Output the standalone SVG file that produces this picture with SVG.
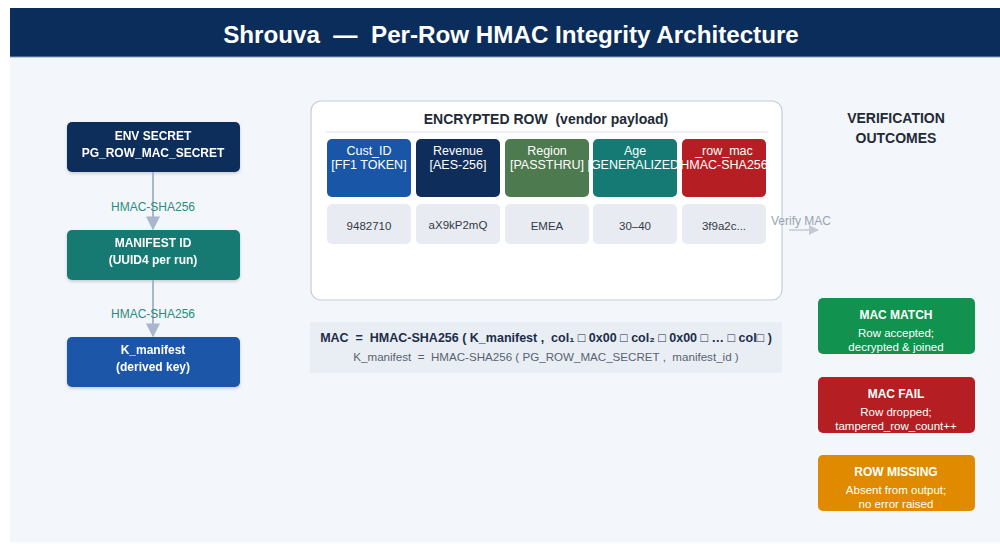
<svg xmlns="http://www.w3.org/2000/svg" width="1000" height="544" viewBox="0 0 1000 544">
  <defs>
    <marker id="arrow" viewBox="0 0 10 10" refX="9" refY="5" markerWidth="7" markerHeight="7" orient="auto">
      <path d="M0,0 L10,5 L0,10 z" fill="#a9b6cc"/>
    </marker>
    <marker id="arrow-grey" viewBox="0 0 10 10" refX="9" refY="5" markerWidth="7" markerHeight="7" orient="auto">
      <path d="M0,0 L10,5 L0,10 z" fill="#c3cad6"/>
    </marker>
    <filter id="shadow" x="-10%" y="-10%" width="130%" height="140%">
      <feDropShadow dx="0" dy="1.5" stdDeviation="1.5" flood-color="#000" flood-opacity="0.18"/>
    </filter>
  </defs>
  <style>
    text { font-family: "Liberation Sans", Arial, sans-serif; white-space: pre; }
    .node-title { fill: #ffffff; font-weight: bold; font-size: 12px; text-anchor: middle; }
    .edge-label { fill: #2e8b7f; font-size: 12px; text-anchor: middle; }
    .col-head { fill: #ffffff; font-size: 12.5px; text-anchor: middle; }
    .col-val { fill: #333a45; font-size: 11.5px; text-anchor: middle; }
    .val-box { fill: #e8ecf2; }
    .out-title { fill: #ffffff; font-weight: bold; font-size: 12px; text-anchor: middle; }
    .out-text { fill: #ffffff; font-size: 11.5px; text-anchor: middle; }
    .heading { fill: #222a35; font-weight: bold; font-size: 14px; text-anchor: middle; }
  </style>

  <!-- page -->
  <rect x="0" y="0" width="1000" height="544" fill="#ffffff"/>
  <rect x="10" y="57" width="990" height="485" fill="#f3f6fa"/>

  <!-- title bar -->
  <g id="title">
    <rect x="10" y="8" width="990" height="49" fill="#0b2d5b"/>
    <line x1="10" y1="57" x2="1000" y2="57" stroke="#8fa3c0" stroke-width="1"/>
    <text x="511" y="43" fill="#ffffff" font-size="24.2" font-weight="bold" text-anchor="middle">Shrouva  —  Per-Row HMAC Integrity Architecture</text>
  </g>

  <!-- key derivation chain -->
  <g id="env-secret" filter="url(#shadow)">
    <rect x="67" y="122" width="173" height="50" rx="5" fill="#0f2d5a"/>
    <text class="node-title" x="153" y="140">ENV SECRET</text>
    <text class="node-title" x="153" y="157">PG_ROW_MAC_SECRET</text>
  </g>
  <g id="manifest-id" filter="url(#shadow)">
    <rect x="67" y="230" width="173" height="50" rx="5" fill="#167a73"/>
    <text class="node-title" x="153" y="247">MANIFEST ID</text>
    <text class="node-title" x="153" y="264">(UUID4 per run)</text>
  </g>
  <g id="k-manifest" filter="url(#shadow)">
    <rect x="67" y="337" width="173" height="50" rx="5" fill="#1a56a8"/>
    <text class="node-title" x="153" y="354">K_manifest</text>
    <text class="node-title" x="153" y="371">(derived key)</text>
  </g>

  <!-- encrypted row panel -->
  <g id="encrypted-row">
    <rect x="311" y="101" width="471" height="199" rx="10" fill="#ffffff" stroke="#c5cdd9" stroke-width="1.2"/>
    <text class="heading" x="546" y="124">ENCRYPTED ROW  (vendor payload)</text>
    <line x1="325" y1="132" x2="768" y2="132" stroke="#dde2ea" stroke-width="1"/>

    <g id="col-cust-id">
      <rect x="327" y="139" width="84" height="58" rx="5" fill="#1a56a8"/>
      <text class="col-head" x="369" y="155">Cust_ID</text>
      <text class="col-head" x="369" y="169">[FF1 TOKEN]</text>
      <rect class="val-box" x="327" y="204" width="84" height="40" rx="5"/>
      <text class="col-val" x="369" y="230">9482710</text>
    </g>
    <g id="col-revenue">
      <rect x="416" y="139" width="84" height="58" rx="5" fill="#0f2d5a"/>
      <text class="col-head" x="458" y="155">Revenue</text>
      <text class="col-head" x="458" y="169">[AES-256]</text>
      <rect class="val-box" x="416" y="204" width="84" height="40" rx="5"/>
      <text class="col-val" x="458" y="229">aX9kP2mQ</text>
    </g>
    <g id="col-region">
      <rect x="505" y="139" width="84" height="58" rx="5" fill="#4e7a4f"/>
      <text class="col-head" x="547" y="155">Region</text>
      <text class="col-head" x="547" y="169">[PASSTHRU]</text>
      <rect class="val-box" x="505" y="204" width="84" height="40" rx="5"/>
      <text class="col-val" x="547" y="230">EMEA</text>
    </g>
    <g id="col-age">
      <rect x="593" y="139" width="84" height="58" rx="5" fill="#147a73"/>
      <text class="col-head" x="635" y="155">Age</text>
      <text class="col-head" x="635" y="169">[GENERALIZED]</text>
      <rect class="val-box" x="593" y="204" width="84" height="40" rx="5"/>
      <text class="col-val" x="635" y="230">30–40</text>
    </g>
    <g id="col-row-mac">
      <rect x="682" y="139" width="84" height="58" rx="5" fill="#b51e22"/>
      <text class="col-head" x="724" y="155">_row_mac</text>
      <text class="col-head" x="724" y="169">[HMAC-SHA256]</text>
      <rect class="val-box" x="682" y="204" width="84" height="40" rx="5"/>
      <text class="col-val" x="724" y="230">3f9a2c...</text>
    </g>
  </g>

  <!-- connectors -->
  <g id="connectors">
    <line x1="153" y1="172" x2="153" y2="229" stroke="#a9b6cc" stroke-width="2" marker-end="url(#arrow)"/>
    <line x1="153" y1="280" x2="153" y2="336" stroke="#a9b6cc" stroke-width="2" marker-end="url(#arrow)"/>
    <text class="edge-label" x="153" y="211">HMAC-SHA256</text>
    <text class="edge-label" x="153" y="318">HMAC-SHA256</text>
    <line x1="789" y1="230" x2="818" y2="230" stroke="#c3cad6" stroke-width="1.5" marker-end="url(#arrow-grey)"/>
    <text x="771" y="225" fill="#9aa3b0" font-size="12">Verify MAC</text>
  </g>

  <!-- MAC formula -->
  <g id="formula">
    <rect x="310" y="322" width="472" height="51" fill="#e9eef5"/>
    <text x="546" y="342" fill="#1c2d4a" font-size="12.5" font-weight="bold" text-anchor="middle">MAC  =  HMAC-SHA256 ( K_manifest ,  col₁ □ 0x00 □ col₂ □ 0x00 □ … □ col□ )</text>
    <text x="546" y="361" fill="#5a6270" font-size="11.6" text-anchor="middle">K_manifest  =  HMAC-SHA256 ( PG_ROW_MAC_SECRET ,  manifest_id )</text>
  </g>

  <!-- verification outcomes -->
  <g id="outcomes-heading">
    <text class="heading" x="896" y="123">VERIFICATION</text>
    <text class="heading" x="896" y="143">OUTCOMES</text>
  </g>
  <g id="mac-match">
    <rect x="818" y="298" width="157" height="56" rx="5" fill="#12924f"/>
    <text class="out-title" x="896" y="319">MAC MATCH</text>
    <text class="out-text" x="896" y="337">Row accepted;</text>
    <text class="out-text" x="896" y="351">decrypted &amp; joined</text>
  </g>
  <g id="mac-fail">
    <rect x="818" y="377" width="157" height="56" rx="5" fill="#b51e22"/>
    <text class="out-title" x="896" y="398">MAC FAIL</text>
    <text class="out-text" x="896" y="416">Row dropped;</text>
    <text class="out-text" x="896" y="430">tampered_row_count++</text>
  </g>
  <g id="row-missing">
    <rect x="818" y="455" width="157" height="56" rx="5" fill="#e08a00"/>
    <text class="out-title" x="896" y="476">ROW MISSING</text>
    <text class="out-text" x="896" y="494">Absent from output;</text>
    <text class="out-text" x="896" y="508">no error raised</text>
  </g>
</svg>
